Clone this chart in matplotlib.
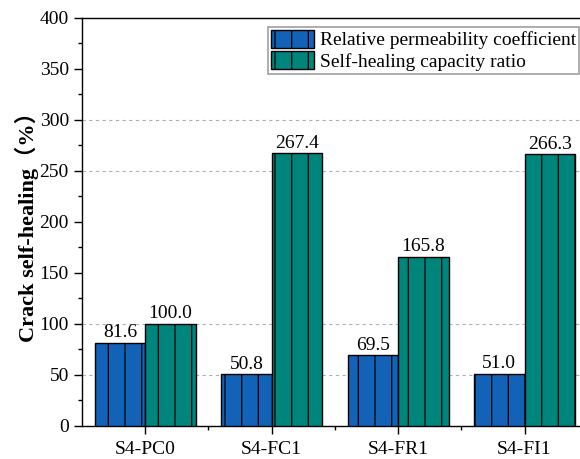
import numpy as np
import matplotlib.pyplot as plt
from matplotlib.ticker import MultipleLocator, FixedLocator

# Data
categories = ["S4-PC0", "S4-FC1", "S4-FR1", "S4-FI1"]
permeability = [81.6, 50.8, 69.5, 51.0]
healing_ratio = [100.0, 267.4, 165.8, 266.3]
grid_levels = [50, 100, 250, 300]

plt.rcParams['font.family'] = ['Liberation Serif', 'Noto Sans CJK SC']
plt.rcParams['hatch.linewidth'] = 0.9
plt.rcParams['hatch.color'] = 'black'

fig = plt.figure(figsize=(5.8, 4.59), dpi=100)
ax = fig.add_axes([0.1414, 0.0719, 0.872, 0.889])

x = np.arange(len(categories))
w = 0.4
b1 = ax.bar(x - w / 2, permeability, w, color='#1262B8', edgecolor='black',
            linewidth=1.0, hatch='|', label='Relative permeability coefficient', zorder=3)
b2 = ax.bar(x + w / 2, healing_ratio, w, color='#00857D', edgecolor='black',
            linewidth=1.0, hatch='|', label='Self-healing capacity ratio', zorder=3)

for bars, vals in ((b1, permeability), (b2, healing_ratio)):
    for r, v in zip(bars, vals):
        ax.text(r.get_x() + r.get_width() / 2, v + 1.5, f"{v:.1f}",
                ha='center', va='bottom', fontsize=14, zorder=4)

ax.set_xlim(-0.5, 3.5)
ax.set_ylim(0, 400)
ax.set_xticks(x)
ax.set_xticklabels(categories, fontsize=14)
ax.xaxis.set_minor_locator(FixedLocator([0.5, 1.5, 2.5]))
ax.yaxis.set_major_locator(MultipleLocator(50))
ax.yaxis.set_minor_locator(MultipleLocator(25))
ax.tick_params(axis='y', which='major', direction='out', length=6, width=1, labelsize=14)
ax.tick_params(axis='y', which='minor', direction='out', length=3, width=1)
ax.tick_params(axis='x', which='major', direction='out', length=6, width=1, pad=5)
ax.tick_params(axis='x', which='minor', direction='out', length=3, width=1)

for y in grid_levels:
    ax.axhline(y, color='#b0b0b0', linestyle=(0, (3, 3)), linewidth=0.8, zorder=1)

for s in ax.spines.values():
    s.set_linewidth(1.0)

ax.set_ylabel("Crack self-healing（%）", fontsize=16, fontweight='bold', labelpad=0)

leg = ax.legend(loc='upper left', bbox_to_anchor=(0.368, 0.978), fontsize=14,
                frameon=True, fancybox=False, edgecolor='#888888',
                handlelength=2.2, handleheight=1.05, handletextpad=0.3,
                borderpad=0.15, labelspacing=0.1, borderaxespad=0)
leg.get_frame().set_linewidth(1.2)

fig.savefig("out.png", dpi=100)
